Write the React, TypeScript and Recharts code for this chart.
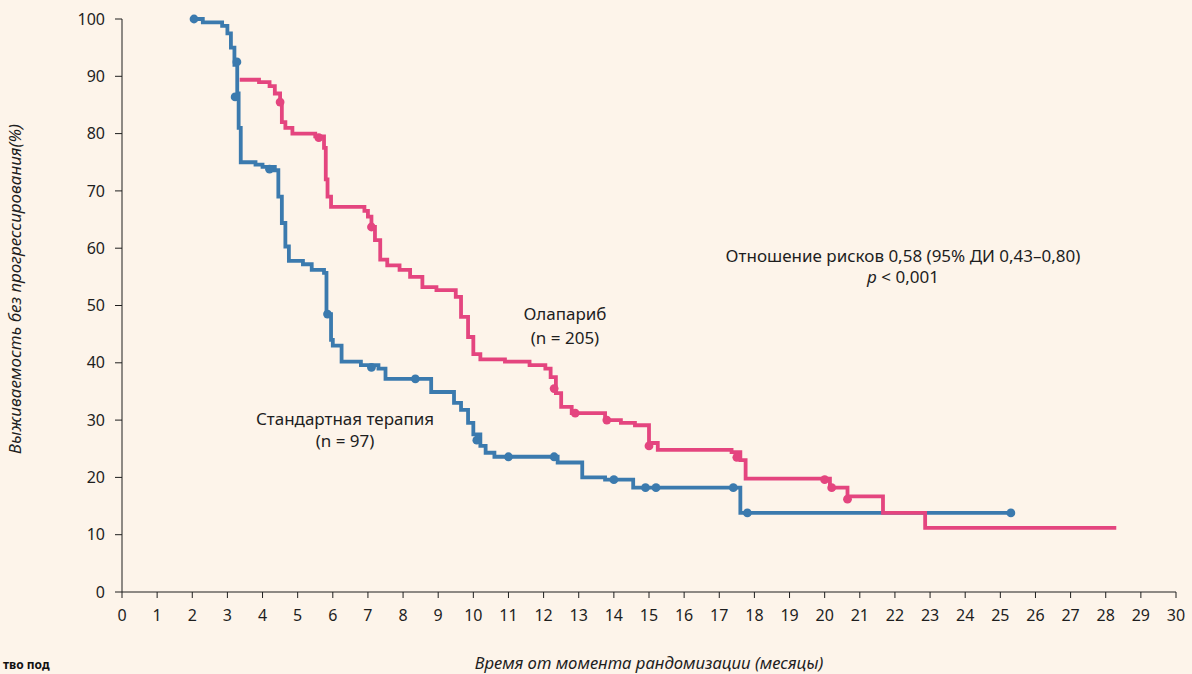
import { ComposedChart, Line, Scatter, XAxis, YAxis } from "recharts";

// Kaplan–Meier style PFS curves (olaparib vs standard therapy).
const months = Array.from({ length: 31 }, (_, i) => i);
const pctTicks = [0, 10, 20, 30, 40, 50, 60, 70, 80, 90, 100];

// standard therapy, n = 97
const stdT = [2.0, 2.3, 2.85, 3.0, 3.1, 3.2, 3.28, 3.32, 3.38, 3.8, 4.0, 4.35, 4.45, 4.55, 4.65, 4.75, 5.15, 5.4, 5.75, 5.82, 5.95, 6.0, 6.25, 6.8, 7.3, 7.5, 8.8, 9.45, 9.65, 9.85, 10.0, 10.2, 10.35, 10.6, 12.4, 13.1, 13.75, 14.55, 17.6, 25.3];
const stdS = [100, 99.4, 98.8, 97.5, 95, 92, 87, 81, 75, 74.6, 74.2, 73.6, 69, 64.4, 60.3, 57.8, 57.2, 56.2, 55.7, 48.5, 44, 43, 40.2, 39.6, 39.0, 37.2, 34.9, 33, 31.8, 29.5, 27.5, 25.5, 24.3, 23.6, 22.6, 20, 19.6, 18.2, 13.8, 13.8];
const stdCensT = [2.05, 3.27, 3.22, 4.2, 5.85, 7.1, 8.35, 10.1, 11.0, 12.3, 14.0, 14.9, 15.2, 17.4, 17.8, 25.3];
const stdCensS = [100, 92.5, 86.4, 73.8, 48.5, 39.2, 37.2, 26.5, 23.6, 23.6, 19.6, 18.2, 18.2, 18.2, 13.8, 13.8];

// olaparib, n = 205
const olaT = [3.35, 3.9, 4.2, 4.35, 4.5, 4.55, 4.65, 4.85, 5.5, 5.75, 5.8, 5.85, 5.95, 6.9, 7.0, 7.1, 7.2, 7.35, 7.55, 7.9, 8.2, 8.55, 8.95, 9.5, 9.65, 9.85, 10.0, 10.2, 10.9, 11.6, 12.05, 12.2, 12.35, 12.5, 12.8, 13.75, 14.2, 14.6, 15.0, 15.25, 17.35, 17.6, 17.75, 20.15, 20.65, 21.66, 22.86, 28.3];
const olaS = [89.4, 89, 88.3, 87, 85.3, 82, 81, 80, 79.5, 77.5, 72, 69, 67.2, 66.5, 65.5, 63.7, 61.4, 58, 57, 56.2, 55, 53.2, 52.7, 51.5, 48, 44.5, 41.5, 40.6, 40.2, 39.6, 39, 37.5, 34.7, 32.3, 31.2, 30, 29.5, 29.1, 26, 24.8, 24.4, 23, 19.8, 18.2, 16.7, 13.8, 11.2, 11.2];
const olaCensT = [4.5, 5.6, 7.1, 12.3, 12.9, 13.8, 15.0, 17.5, 20.0, 20.2, 20.65];
const olaCensS = [85.5, 79.3, 63.7, 35.5, 31.2, 30, 25.5, 23.5, 19.6, 18.2, 16.2];

const BLUE = "#3b7aae";
const PINK = "#e4457f";
const BG = "#fdf4ea";
const INK = "#1e1e1e";
const FONT = "'Noto Sans', sans-serif";

const toPts = (t: number[], s: number[]) => t.map((v, i) => ({ t: v, s: s[i] }));

export default function App() {
  const stdLine = toPts(stdT, stdS);
  const olaLine = toPts(olaT, olaS);
  const stdCens = toPts(stdCensT, stdCensS);
  const olaCens = toPts(olaCensT, olaCensS);
  const dot = (color: string) => (p: any) => <circle cx={p.cx} cy={p.cy} r={4.4} fill={color} />;

  return (
    <div style={{ position: "absolute", left: 0, top: 0, width: 1192, height: 674, background: BG, overflow: "hidden", fontFamily: FONT }}>
      <ComposedChart width={1192} height={674} margin={{ top: 19, right: 16, bottom: 52, left: 62 }}>
        <XAxis
          dataKey="t"
          type="number"
          domain={[0, 30]}
          ticks={months}
          interval={0}
          allowDataOverflow
          height={30}
          stroke={INK}
          tickSize={6}
          tickMargin={12}
          tick={{ fill: INK, fontSize: 16, fontFamily: FONT }}
        />
        <YAxis
          dataKey="s"
          type="number"
          domain={[0, 100]}
          ticks={pctTicks}
          interval={0}
          width={60}
          stroke={INK}
          tickSize={7}
          tickMargin={10}
          tick={{ fill: INK, fontSize: 16, fontFamily: FONT }}
        />
        <Line data={stdLine} dataKey="s" type="stepAfter" stroke={BLUE} strokeWidth={3.8} dot={false} isAnimationActive={false} />
        <Line data={olaLine} dataKey="s" type="stepAfter" stroke={PINK} strokeWidth={3.8} dot={false} isAnimationActive={false} />
        <Scatter data={stdCens} dataKey="s" shape={dot(BLUE)} isAnimationActive={false} />
        <Scatter data={olaCens} dataKey="s" shape={dot(PINK)} isAnimationActive={false} />

        <text x={903} y={262} textAnchor="middle" fontSize={17} fill={INK} fontFamily={FONT}>
          Отношение рисков 0,58 (95% ДИ 0,43–0,80)
        </text>
        <text x={903} y={283} textAnchor="middle" fontSize={17} fill={INK} fontFamily={FONT}>
          <tspan fontStyle="italic">p</tspan> &lt; 0,001
        </text>
        <text x={565} y={320} textAnchor="middle" fontSize={17} fill={INK} fontFamily={FONT}>Олапариб</text>
        <text x={565} y={344} textAnchor="middle" fontSize={17} fill={INK} fontFamily={FONT}>(n = 205)</text>
        <text x={345} y={425} textAnchor="middle" fontSize={17} fill={INK} fontFamily={FONT}>Стандартная терапия</text>
        <text x={345} y={447} textAnchor="middle" fontSize={17} fill={INK} fontFamily={FONT}>(n = 97)</text>

        <text x={649} y={669} textAnchor="middle" fontSize={16.7} fontStyle="italic" fill={INK} fontFamily={FONT}>
          Время от момента рандомизации (месяцы)
        </text>
        <text x={0} y={0} transform="translate(21 289) rotate(-90)" textAnchor="middle" fontSize={17} fontStyle="italic" fill={INK} fontFamily={FONT}>
          Выживаемость без прогрессирования(%)
        </text>
        <text x={3} y={669} fontSize={12} fontWeight="bold" fill="#111" fontFamily={FONT}>тво под</text>
      </ComposedChart>
    </div>
  );
}
